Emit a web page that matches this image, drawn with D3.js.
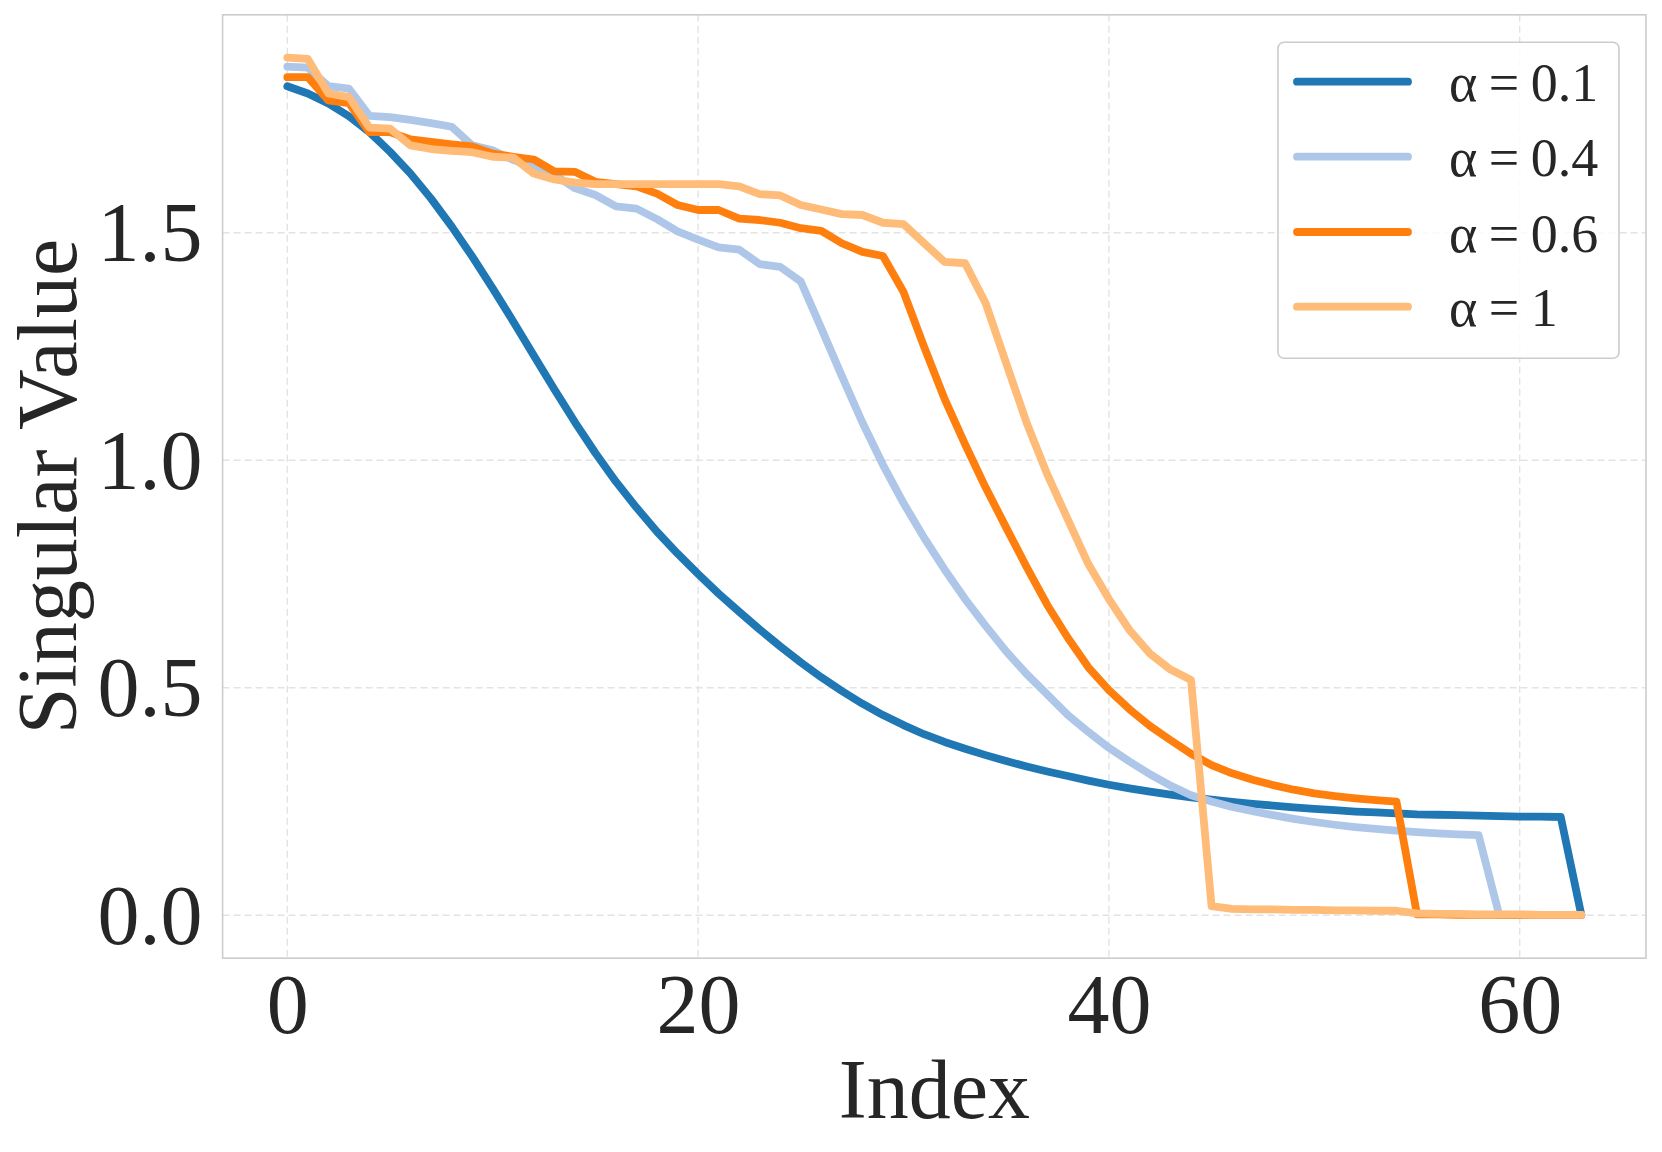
<!DOCTYPE html>
<html>
<head>
<meta charset="utf-8">
<script src="https://cdn.jsdelivr.net/npm/d3@7"></script>
<style>
  html, body { margin: 0; padding: 0; background: #ffffff; }
  svg { display: block; }
  text { font-family: "Liberation Serif", "Times New Roman", serif; fill: #262626; }
</style>
</head>
<body>
<svg id="chart" width="1662" height="1152"></svg>
<script>
// ---- data ----
const seriesLabels = ["α = 0.1", "α = 0.4", "α = 0.6", "α = 1"];
const seriesColors = ["#1f77b4", "#aec7e8", "#ff7f0e", "#ffbb78"];

const alpha01 = [
  1.822,1.806,1.784,1.756,1.721,1.678,1.630,1.575,1.514,1.448,
  1.378,1.305,1.230,1.156,1.084,1.016,0.953,0.896,0.843,0.795,
  0.750,0.707,0.667,0.628,0.591,0.556,0.523,0.493,0.465,0.440,
  0.418,0.398,0.381,0.366,0.352,0.339,0.327,0.316,0.306,0.296,
  0.287,0.279,0.272,0.265,0.259,0.254,0.249,0.245,0.241,0.237,
  0.234,0.231,0.228,0.226,0.224,0.222,0.221,0.220,0.219,0.218,
  0.217,0.217,0.216,0.001
];
const alpha04 = [
  1.865,1.863,1.822,1.817,1.757,1.754,1.748,1.741,1.733,1.692,
  1.681,1.660,1.645,1.628,1.598,1.583,1.558,1.553,1.530,1.503,
  1.485,1.468,1.463,1.431,1.425,1.393,1.290,1.185,1.083,0.990,
  0.906,0.830,0.760,0.695,0.636,0.580,0.530,0.485,0.440,0.403,
  0.368,0.338,0.310,0.285,0.264,0.250,0.238,0.229,0.220,0.212,
  0.205,0.199,0.194,0.190,0.186,0.183,0.180,0.178,0.176,0.001,
  0.001,0.001,0.001,0.001
];
const alpha06 = [
  1.842,1.842,1.791,1.785,1.721,1.721,1.705,1.700,1.694,1.690,
  1.674,1.667,1.661,1.635,1.634,1.612,1.607,1.602,1.586,1.561,
  1.550,1.550,1.531,1.528,1.522,1.510,1.504,1.477,1.458,1.449,
  1.370,1.250,1.135,1.035,0.940,0.852,0.765,0.682,0.610,0.545,
  0.495,0.453,0.416,0.385,0.355,0.330,0.312,0.298,0.286,0.276,
  0.268,0.262,0.257,0.253,0.250,0.002,0.002,0.001,0.001,0.001,
  0.001,0.001,0.001,0.001
];
const alpha1 = [
  1.885,1.882,1.806,1.798,1.731,1.729,1.692,1.684,1.680,1.677,
  1.667,1.665,1.630,1.617,1.610,1.607,1.607,1.607,1.607,1.607,
  1.607,1.607,1.602,1.585,1.582,1.561,1.551,1.541,1.539,1.522,
  1.519,1.477,1.436,1.433,1.345,1.213,1.082,0.969,0.870,0.772,
  0.695,0.627,0.575,0.540,0.517,0.020,0.014,0.013,0.013,0.012,
  0.012,0.011,0.011,0.010,0.010,0.004,0.003,0.003,0.002,0.002,
  0.002,0.001,0.001,0.001
];
const seriesValues = [alpha01, alpha04, alpha06, alpha1];

const xTickValues = [0, 20, 40, 60];
const yTickValues = [0.0, 0.5, 1.0, 1.5];
const xLabel = "Index";
const yLabel = "Singular Value";

// ---- layout ----
const plot = { left: 222.6, right: 1646, top: 14.8, bottom: 958.2 };
const svg = d3.select("#chart");

const x = d3.scaleLinear().domain([-3.15, 66.15]).range([plot.left, plot.right]);
const y = d3.scaleLinear().domain([-0.0943, 1.979]).range([plot.bottom, plot.top]);

// grid
const grid = svg.append("g");
grid.selectAll("line.gx").data(xTickValues).enter().append("line")
  .attr("x1", d => x(d)).attr("x2", d => x(d))
  .attr("y1", plot.top).attr("y2", plot.bottom)
  .attr("stroke", "#e3e3e3").attr("stroke-width", 1.4).attr("stroke-dasharray", "7,4");
grid.selectAll("line.gy").data(yTickValues).enter().append("line")
  .attr("x1", plot.left).attr("x2", plot.right)
  .attr("y1", d => y(d)).attr("y2", d => y(d))
  .attr("stroke", "#e3e3e3").attr("stroke-width", 1.4).attr("stroke-dasharray", "7,4");

// clip
svg.append("clipPath").attr("id", "clip").append("rect")
  .attr("x", plot.left).attr("y", plot.top)
  .attr("width", plot.right - plot.left).attr("height", plot.bottom - plot.top);

// lines
const line = d3.line().x((d, i) => x(i)).y(d => y(d));
const lines = svg.append("g").attr("clip-path", "url(#clip)");
seriesValues.forEach((vals, k) => {
  lines.append("path").datum(vals)
    .attr("d", line)
    .attr("fill", "none")
    .attr("stroke", seriesColors[k])
    .attr("stroke-width", 7.8)
    .attr("stroke-linejoin", "round")
    .attr("stroke-linecap", "round");
});

// spines
svg.append("rect")
  .attr("x", plot.left).attr("y", plot.top)
  .attr("width", plot.right - plot.left).attr("height", plot.bottom - plot.top)
  .attr("fill", "none").attr("stroke", "#cccccc").attr("stroke-width", 1.6);

// axes
const xAxis = d3.axisBottom(x).tickValues(xTickValues).tickSize(0).tickPadding(15)
  .tickFormat(d3.format("d"));
const gx = svg.append("g").attr("transform", `translate(0,${plot.bottom})`).call(xAxis);
gx.select(".domain").remove();
gx.selectAll("text").attr("font-size", 84).attr("font-family", "Liberation Serif").attr("fill", "#262626");

const yAxis = d3.axisLeft(y).tickValues(yTickValues).tickSize(0).tickPadding(20)
  .tickFormat(d3.format(".1f"));
const gy = svg.append("g").attr("transform", `translate(${plot.left},0)`).call(yAxis);
gy.select(".domain").remove();
gy.selectAll("text").attr("font-size", 84).attr("font-family", "Liberation Serif").attr("fill", "#262626")
  .attr("dy", "0.33em");

// axis labels
svg.append("text")
  .attr("x", (plot.left + plot.right) / 2).attr("y", 1118)
  .attr("text-anchor", "middle").attr("font-size", 84)
  .text(xLabel);
svg.append("text")
  .attr("transform", `translate(76,${(plot.top + plot.bottom) / 2}) rotate(-90)`)
  .attr("text-anchor", "middle").attr("font-size", 84)
  .text(yLabel);

// legend
const lg = svg.append("g");
lg.append("rect")
  .attr("x", 1278).attr("y", 42.3).attr("width", 341).attr("height", 316)
  .attr("rx", 6).attr("ry", 6)
  .attr("fill", "#ffffff").attr("fill-opacity", 0.8)
  .attr("stroke", "#cccccc").attr("stroke-width", 1.6);
const rowY = [81.7, 156.7, 232, 306.7];
seriesLabels.forEach((lab, k) => {
  lg.append("line")
    .attr("x1", 1297).attr("x2", 1408)
    .attr("y1", rowY[k]).attr("y2", rowY[k])
    .attr("stroke", seriesColors[k]).attr("stroke-width", 7.8)
    .attr("stroke-linecap", "round");
  lg.append("text")
    .attr("x", 1449).attr("y", rowY[k] + 19.5)
    .attr("font-size", 54)
    .attr("word-spacing", "-2px")
    .text(lab);
});
</script>
</body>
</html>
